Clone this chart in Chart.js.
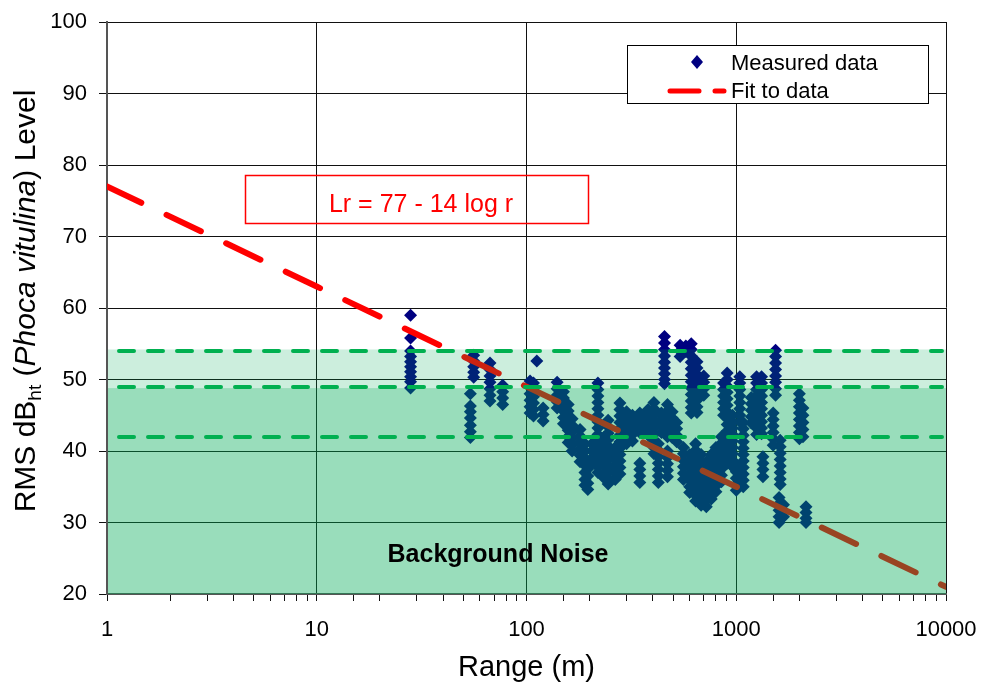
<!DOCTYPE html>
<html>
<head>
<meta charset="utf-8">
<script src="https://cdn.jsdelivr.net/npm/chart.js@4/dist/chart.umd.min.js"></script>
<style>
  html, body { margin: 0; padding: 0; background: #fff; }
  #wrap { width: 983px; height: 684px; }
</style>
</head>
<body>
<div id="wrap"><canvas id="rmsChart"></canvas></div>
<script>
const xTickValues = [1, 10, 100, 1000, 10000];
const yMin = 20;
const yMax = 100;

// measured levels, grouped by the range (m) they were recorded at
const measuredRanges = [
    28, 54, 56, 67, 77, 104, 108, 112, 120, 140, 150, 158, 165, 180, 190, 196,
    205, 219, 235, 245, 265, 279, 300, 320, 347, 360, 380, 405, 425, 440, 455,
    470, 495, 520, 540, 560, 575, 600, 610, 640, 650, 680, 700, 720, 760, 800,
    850, 870, 905, 960, 1000, 1040, 1080, 1180, 1250, 1320, 1340, 1500, 1540,
    1600, 1620, 1680, 2000, 2080, 2150
];
const measuredLevels = [
    [59, 55.8, 54, 53.2, 52.5, 51.8, 51.1, 50.4, 49.7, 48.8],
    [48, 46.3, 45.5, 44.6, 43.6, 42.7, 41.9],
    [53.4, 52.6, 51.8, 51, 50.3],
    [52.3, 51.4, 50.5, 49.6, 48.7, 47.8, 47],
    [49.2, 48.3, 47.4, 46.5],
    [49.8, 48.9, 48, 47.1, 46.2, 45.3],
    [49.5, 48.5, 47.6, 46.7, 45.8, 44.9],
    [52.6],
    [46, 45.1, 44.2],
    [49.6, 48.7, 47.8, 46.9, 46],
    [48.3, 47.4, 46.5, 45.6, 44.7, 43.8],
    [46.5, 45.6, 44.7, 43.8, 42.9, 42, 41.2],
    [44.5, 43.6, 42.7, 41.8, 40.9, 40],
    [43, 42.1, 41.2, 40.3, 39.4, 38.5],
    [41, 40, 39, 38, 37, 36, 35.2],
    [38.5, 37.5, 36.5, 35.5, 34.6],
    [41, 40, 39, 38.2],
    [49.5, 48.6, 47.7, 46.8, 45.9, 45, 44.1, 43.2, 42.3, 41.4, 40.5, 39.6, 38.7, 37.8, 37],
    [42, 41, 40, 39, 38, 37, 36.2],
    [44.3, 43.4, 42.5, 41.6, 40.7, 39.8, 38.9, 38, 37.1, 36.2, 35.4],
    [40.5, 39.6, 38.7, 37.8, 36.9, 36],
    [46.7, 45.8, 44.9, 44, 43.1, 42.2, 41.3, 40.4, 39.5, 38.6, 37.7, 36.8],
    [45.5, 44.6, 43.7, 42.8, 41.9, 41],
    [45, 44.1, 43.2, 42.3, 41.4],
    [45.3, 44.4, 43.5, 42.6, 38.3, 37.4, 36.5, 35.6],
    [44.5, 43.6, 42.7],
    [45.8, 44.9, 44, 43.1, 42.2],
    [46.8, 45.9, 45, 44.1, 43.2, 42.3, 41.4, 40.5, 39.6],
    [41, 40.1, 39.2, 38.3, 37.4, 36.5, 35.6],
    [45.3, 44.4, 43.5, 42.6],
    [56, 55.1, 54.2, 53.3, 52.4, 51.6, 50.8, 50, 49.4],
    [46.5, 45.6, 44.7, 43.8, 42.9, 42, 40, 39.1, 38.2, 37.3, 36.4],
    [45.5, 44.6, 43.7, 42.8, 41.9],
    [44, 43.1, 42.2, 41.3],
    [54.8, 54, 53.2],
    [40.5, 39.6, 38.7, 37.8, 36.9, 36],
    [54.7, 53.9],
    [39.5, 38.6, 37.7, 36.8, 35.9, 35, 34.2],
    [55, 54.2, 53.3, 52.4, 51.5, 50.6, 49.7, 48.8, 47.9, 47, 46.1, 45.3],
    [41, 40.1, 39.2, 38.3, 37.4, 36.5, 35.6, 34.7, 33.8, 33],
    [52.5, 51.6, 50.7, 49.8, 48.9, 48, 47.1, 46.2, 45.4],
    [39.5, 38.6, 37.7, 36.8, 35.9, 35, 34.1, 33.2, 32.4],
    [50.5, 49.6, 48.7, 47.8],
    [38.5, 37.6, 36.7, 35.8, 34.9, 34, 33.1, 32.2],
    [39.5, 38.6, 37.7, 36.8, 35.9, 35, 34.1, 33.3],
    [40.5, 39.6, 38.7, 37.8, 36.9, 36, 35.1, 34.3],
    [42, 41.1, 40.2, 39.3, 38.4, 37.5, 36.6, 35.7],
    [49.5, 48.6, 47.7, 46.8, 45.9, 45],
    [50.9, 50, 49.1, 48.2, 47.3, 46.4, 45.5, 44.6, 43.7, 42.8, 41.9, 41, 40.1, 39.2, 38.3],
    [45, 44.1, 43.2, 42.3, 41.4, 40.5, 39.6, 38.7, 37.8],
    [38, 37.1, 36.2, 35.3, 34.5],
    [50.4, 49.5, 48.6, 47.7, 46.8, 45.9, 45, 44.1],
    [44, 43.1, 42.2, 41.3, 40.4, 39.5, 38.6, 37.7, 36.8, 35.9, 35],
    [47.5, 46.6, 45.7, 44.8, 43.9],
    [50.4, 49.5, 48.6, 47.7, 46.8, 45.9, 45, 44.1, 43.2, 42.3],
    [50.4, 49.5, 48.6, 47.7, 46.8, 45.9, 45, 44.1, 43.2, 42.4],
    [39.2, 38.3, 37.4, 36.4],
    [45.3, 44.4, 43.5, 42.6, 41.7, 40.8],
    [54.1, 53.2, 52.3, 51.4, 50.5, 49.6, 48.7, 47.8],
    [33.5, 32.6, 31.7, 30.8, 30],
    [41.5, 40.6, 39.7, 38.8, 37.9, 37, 36.1, 35.3],
    [32.5, 31.6, 30.8],
    [48, 47.1, 46.2, 45.3, 44.4, 43.5, 42.6, 41.7],
    [46, 45, 44, 43, 42],
    [32.2, 31.4, 30.6, 30]
];

// Lr = 77 - 14 log r
const fitRanges = [1, 10, 100, 1000, 10000];
const fitLevels = [77, 63, 49, 35, 21];

// background noise shading and its reference levels
const noiseBandEdges = [20, 48.8, 54.2];
const noiseDashLevels = [42, 49, 54];

const measuredPoints = [];
measuredRanges.forEach((r, i) => {
    measuredLevels[i].forEach((lv) => measuredPoints.push({ x: r, y: lv }));
});
const fitPoints = fitRanges.map((r, i) => ({ x: r, y: fitLevels[i] }));

const FONT = "'Liberation Sans', Arial, sans-serif";

// keep tick labels from pushing the plot area around
function noScalePadding(s) {
    s.paddingLeft = 0;
    s.paddingRight = 0;
    s.paddingTop = 0;
    s.paddingBottom = 0;
}

const noisePlugin = {
    id: "noiseBands",
    afterDatasetsDraw(chart) {
        const { ctx, chartArea: a, scales } = chart;
        const y = scales.y;
        const top = y.getPixelForValue(noiseBandEdges[2]);
        const mid = y.getPixelForValue(noiseBandEdges[1]);
        const bot = y.getPixelForValue(noiseBandEdges[0]);
        ctx.save();
        ctx.fillStyle = "rgba(0, 170, 85, 0.2)";
        ctx.fillRect(a.left + 1, top, a.right - a.left - 1, mid - top);
        ctx.fillStyle = "rgba(0, 170, 85, 0.4)";
        ctx.fillRect(a.left + 1, mid, a.right - a.left - 1, bot - mid);

        ctx.strokeStyle = "#00B050";
        ctx.lineWidth = 4;
        ctx.lineCap = "round";
        ctx.setLineDash([15, 14]);
        noiseDashLevels.forEach((lv) => {
            const py = Math.round(y.getPixelForValue(lv));
            ctx.beginPath();
            ctx.moveTo(a.left + 12, py);
            ctx.lineTo(a.right - 4, py);
            ctx.stroke();
        });
        ctx.restore();
    },
    afterDraw(chart) {
        const { ctx, chartArea: a } = chart;
        ctx.save();

        // legend
        const lx = a.right - 319, ly = a.top + 23;
        ctx.fillStyle = "#fff";
        ctx.fillRect(lx, ly, 301, 58);
        ctx.strokeStyle = "#000";
        ctx.lineWidth = 1;
        ctx.strokeRect(lx + 0.5, ly + 0.5, 301, 58);
        ctx.fillStyle = "#000080";
        ctx.beginPath();
        ctx.moveTo(lx + 70, ly + 10);
        ctx.lineTo(lx + 76, ly + 17);
        ctx.lineTo(lx + 70, ly + 24);
        ctx.lineTo(lx + 64, ly + 17);
        ctx.closePath();
        ctx.fill();
        ctx.strokeStyle = "#FF0000";
        ctx.lineWidth = 5;
        ctx.lineCap = "round";
        ctx.beginPath();
        ctx.moveTo(lx + 43, ly + 46); ctx.lineTo(lx + 72, ly + 46);
        ctx.moveTo(lx + 88, ly + 46); ctx.lineTo(lx + 97, ly + 46);
        ctx.stroke();
        ctx.fillStyle = "#000";
        ctx.font = "22px " + FONT;
        ctx.textBaseline = "alphabetic";
        ctx.fillText("Measured data", lx + 104, ly + 25);
        ctx.fillText("Fit to data", lx + 104, ly + 53);

        // fit equation box
        ctx.strokeStyle = "#FF0000";
        ctx.lineWidth = 1.5;
        ctx.strokeRect(245.5, 175.5, 343, 48);
        ctx.fillStyle = "#FF0000";
        ctx.font = "25px " + FONT;
        ctx.textAlign = "center";
        ctx.fillText("Lr = 77 - 14 log r", 421, 212);

        // band label
        ctx.fillStyle = "#000";
        ctx.font = "bold 25px " + FONT;
        ctx.fillText("Background Noise", 498, 562);

        // x axis title
        ctx.font = "29px " + FONT;
        ctx.fillText("Range (m)", (a.left + a.right) / 2, 676);

        // y axis title with subscript and italic species name
        const parts = [
            { t: "RMS dB", f: "30px " + FONT, dy: 0 },
            { t: "ht", f: "19px " + FONT, dy: 6 },
            { t: " (", f: "30px " + FONT, dy: 0 },
            { t: "Phoca vitulina", f: "italic 30px " + FONT, dy: 0 },
            { t: ") Level", f: "30px " + FONT, dy: 0 }
        ];
        let total = 0;
        parts.forEach((p) => { ctx.font = p.f; p.w = ctx.measureText(p.t).width; total += p.w; });
        ctx.translate(35, 301);
        ctx.rotate(-Math.PI / 2);
        ctx.textAlign = "left";
        let cx = -total / 2;
        parts.forEach((p) => {
            ctx.font = p.f;
            ctx.fillText(p.t, cx, p.dy);
            cx += p.w;
        });
        ctx.restore();
    }
};

new Chart(document.getElementById("rmsChart"), {
    type: "scatter",
    data: {
        datasets: [
            {
                label: "Fit to data",
                data: fitPoints,
                showLine: true,
                borderColor: "#FF0000",
                borderWidth: 6,
                borderDash: [38, 28],
                borderCapStyle: "round",
                pointRadius: 0,
                fill: false,
                order: 0
            },
            {
                label: "Measured data",
                data: measuredPoints,
                pointStyle: "rectRot",
                pointRadius: 6.5,
                pointHoverRadius: 6.5,
                backgroundColor: "#000080",
                borderColor: "#000080",
                borderWidth: 0,
                order: 1
            }
        ]
    },
    options: {
        responsive: true,
        maintainAspectRatio: false,
        animation: false,
        layout: { padding: { left: 0, right: 37, top: 22, bottom: 0 } },
        plugins: { legend: { display: false }, tooltip: { enabled: false } },
        scales: {
            x: {
                type: "logarithmic",
                min: 1,
                max: 10000,
                afterFit: (s) => { s.height = 90; noScalePadding(s); },
                border: { color: "#555", width: 2 },
                grid: {
                    color: (c) => (c.tick && xTickValues.includes(c.tick.value) ? "#111" : "rgba(0,0,0,0)"),
                    tickColor: "#111",
                    tickLength: 7,
                    lineWidth: 1
                },
                ticks: {
                    autoSkip: false,
                    maxRotation: 0,
                    padding: 16,
                    color: "#000",
                    font: { size: 22, family: FONT },
                    callback: (v) => (xTickValues.includes(v) ? String(v) : "")
                }
            },
            y: {
                min: yMin,
                max: yMax,
                afterFit: (s) => { s.width = 107; noScalePadding(s); },
                border: { color: "#555", width: 2 },
                grid: { color: "#111", tickColor: "#111", tickLength: 8, lineWidth: 1 },
                ticks: {
                    stepSize: 10,
                    padding: 12,
                    color: "#000",
                    font: { size: 22, family: FONT }
                }
            }
        }
    },
    plugins: [noisePlugin]
});
</script>
</body>
</html>
